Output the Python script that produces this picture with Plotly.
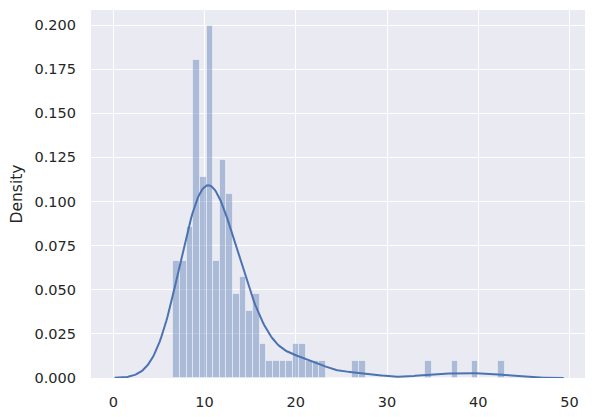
import numpy as np
import plotly.graph_objects as go

# Histogram data (50 equal-width bins)
bin_start = 6.59
bin_width = 0.7265
bin_counts = [7, 7, 9, 19, 12, 21, 7, 13, 11, 5,
              6, 4, 5, 2, 1, 1, 1, 1, 2, 2,
              1, 1, 1, 0, 0, 0, 0, 1, 1, 0,
              0, 0, 0, 0, 0, 0, 0, 0, 1, 0,
              0, 0, 1, 0, 0, 1, 0, 0, 0, 1]
x_ticks = [0, 10, 20, 30, 40, 50]
y_ticks = [0.0, 0.025, 0.05, 0.075, 0.1, 0.125, 0.15, 0.175, 0.2]
y_tick_text = ["0.000", "0.025", "0.050", "0.075", "0.100", "0.125", "0.150", "0.175", "0.200"]

counts = np.array(bin_counts, dtype=float)
n = counts.sum()
edges = bin_start + bin_width * np.arange(len(counts) + 1)
centers = (edges[:-1] + edges[1:]) / 2
density = counts / (n * bin_width)

# Gaussian KDE (Scott's rule) over the sample implied by the histogram
sample = np.repeat(centers, counts.astype(int))
bw = sample.std(ddof=1) * n ** (-0.2)
grid = np.linspace(edges[0] - 3 * bw, edges[-1] + 3 * bw, 400)
kde = np.exp(-0.5 * ((grid[:, None] - sample[None, :]) / bw) ** 2).sum(axis=1) / (n * bw * np.sqrt(2 * np.pi))

blue = "#4C72B0"
fig = go.Figure()
fig.add_trace(go.Bar(
    x=centers, y=density, width=bin_width,
    marker=dict(color="rgba(76,114,176,0.4)", line=dict(color="rgba(255,255,255,0.45)", width=1)),
    showlegend=False, hoverinfo="skip",
))
fig.add_trace(go.Scatter(
    x=grid, y=kde, mode="lines", line=dict(color=blue, width=2),
    showlegend=False,
))

font = dict(family="DejaVu Sans", size=14.5, color="#262626")
# page body has an 8px margin, so the figure is sized/positioned to compensate
fig.update_layout(
    width=588, height=409,
    margin=dict(l=83, r=11, t=2, b=39),
    paper_bgcolor="white", plot_bgcolor="#EAEAF2",
    bargap=0, font=font,
    xaxis=dict(range=[-2.45, 51.7], tickvals=x_ticks, showgrid=True, automargin=False,
               gridcolor="white", gridwidth=1.3, zeroline=False, showline=False,
               ticks="", ticklabelstandoff=13, tickfont=font),
    yaxis=dict(range=[0, 0.2085], tickvals=y_ticks, ticktext=y_tick_text, automargin=False,
               showgrid=True, gridcolor="white", gridwidth=1.3, zeroline=False,
               showline=False, ticks="", ticklabelstandoff=14, tickfont=font,
               title=dict(text="Density", font=dict(family="DejaVu Sans", size=15.5, color="#262626"), standoff=13)),
)
fig.write_html("out.html")
